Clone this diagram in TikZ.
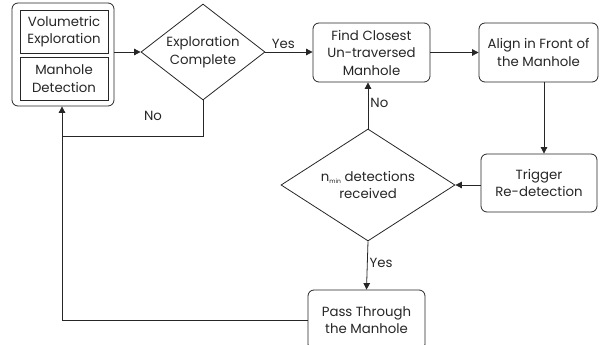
\documentclass[tikz,border=0pt]{standalone}
\usepackage{fontspec}
\setmainfont{Poppins}
\usetikzlibrary{shapes.geometric,arrows.meta}
\begin{document}
\begin{tikzpicture}[x=1pt,y=-1pt,
  every node/.style={font=\fontsize{13.3}{17.5}\selectfont, text=black!85, align=center, inner sep=0pt},
  line/.style={draw=black!85, line width=0.8pt},
  arr/.style={line, -{Triangle[length=6.5pt,width=6.5pt]}},
  rbox/.style={line, rounded corners=6pt, rectangle},
  sbox/.style={line, rectangle},
  dia/.style={line, diamond},
  lbl/.style={font=\fontsize{13.3}{15}\selectfont}]
\useasboundingbox (0,0) rectangle (600,345);
% nodes
\node[rbox, minimum width=102pt, minimum height=103pt] (outer) at (63,54.5) {};
\node[sbox, minimum width=88pt, minimum height=43pt] (v1) at (64,31.5) {Volumetric\\Exploration};
\node[sbox, minimum width=88pt, minimum height=43pt] (v2) at (64,78.5) {Manhole\\Detection};
\node[dia, minimum width=124pt, minimum height=96pt, shape aspect=1.29] (d1) at (203,52) {};
\node at (203,52) {Exploration\\Complete};
\node[rbox, minimum width=117pt, minimum height=59pt] (find) at (371.5,52.5) {Find Closest\\Un-traversed\\Manhole};
\node[rbox, minimum width=119pt, minimum height=59pt] (align) at (538.5,52.5) {Align in Front of\\the Manhole};
\node[rbox, minimum width=116pt, minimum height=58pt] (trig) at (539,183) {Trigger\\Re-detection};
\node[dia, minimum width=174pt, minimum height=112pt, shape aspect=1.55] (d2) at (368,185) {};
\node at (368,185) {n{\raisebox{-2.5pt}{\fontsize{6}{6}\selectfont min}} detections\\received};
\node[rbox, minimum width=117pt, minimum height=60pt] (pass) at (366.5,320) {Pass Through\\the Manhole};
\coordinate (jn) at (62,136);
% connectors
\draw[arr] (outer.east |- d1.west) -- (d1.west);
\draw[arr] (d1.east) -- node[lbl, above=3pt, pos=0.38] (yes1) {Yes} (find.west |- d1.east);
\draw[arr] (find.east) -- (align.west);
\draw[arr] ([xshift=5.5pt]align.south) -- ([xshift=5.5pt]align.south |- trig.north);
\draw[arr] (trig.west |- d2.east) -- (d2.east);
\draw[arr] (d2.north) -- node[lbl, right=2pt, pos=0.55] (no2) {No} (d2.north |- find.south);
\draw[arr] (d2.south) -- node[lbl, right=2pt, pos=0.45] (yes2) {Yes} (pass.north);
\draw[line] (d1.south) |- (jn);
\node[lbl] (no1) at (153,116) {No};
\draw[arr] (pass.west) -| ([xshift=-1pt]outer.south);
\end{tikzpicture}
\end{document}
